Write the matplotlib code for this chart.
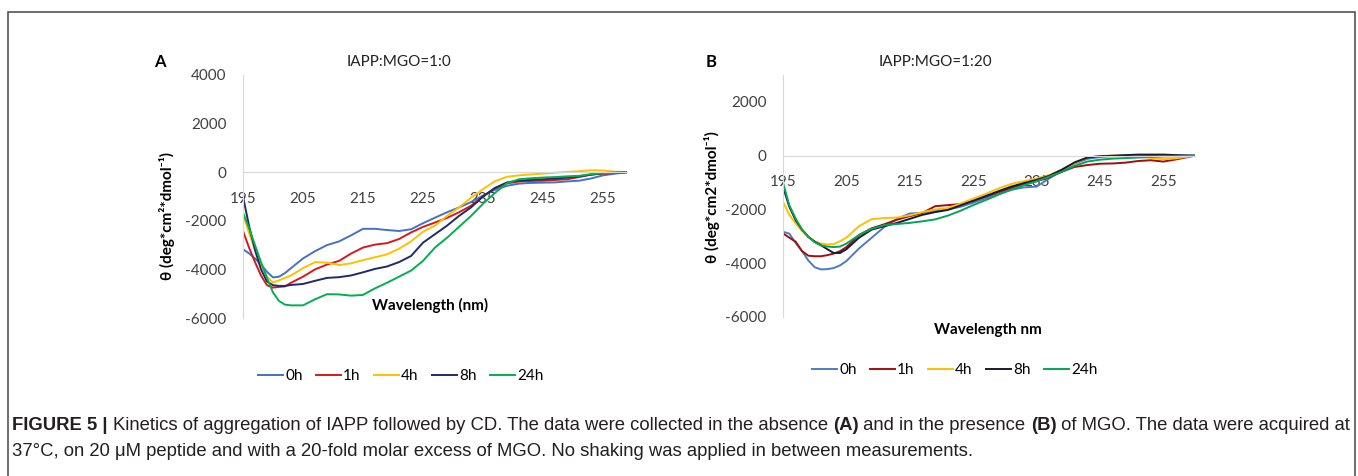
import matplotlib
matplotlib.use('Agg')
import matplotlib.pyplot as plt
from matplotlib.patches import Rectangle

# ---- data ----
hours = ['0h', '1h', '4h', '8h', '24h']

# panel A, IAPP:MGO = 1:0
wl_a = [195, 196, 197, 198, 199, 200, 201, 202, 203, 205, 207, 209, 211, 213, 215, 217, 219,
        221, 223, 225, 227, 229, 231, 233, 235, 237, 239, 241, 243, 245, 247, 249, 251, 253,
        255, 257, 259]
a_0h = [-3170, -3340, -3550, -3800, -4100, -4330, -4300, -4150, -3950, -3550, -3250, -3000,
        -2850, -2600, -2330, -2330, -2380, -2420, -2350, -2100, -1870, -1650, -1450, -1230,
        -960, -720, -560, -470, -440, -430, -420, -380, -350, -260, -130, -60, 0]
a_1h = [-2420, -3100, -3700, -4250, -4650, -4750, -4720, -4700, -4550, -4300, -4000, -3800,
        -3650, -3350, -3100, -2980, -2920, -2750, -2480, -2250, -2070, -1880, -1650, -1380,
        -1000, -650, -460, -380, -360, -350, -320, -290, -200, -100, -60, -30, 0]
a_4h = [-1730, -2500, -3200, -3800, -4300, -4540, -4450, -4350, -4250, -3950, -3700, -3720,
        -3820, -3750, -3620, -3500, -3380, -3150, -2850, -2450, -2200, -1800, -1450, -1050,
        -700, -370, -190, -130, -90, -60, -20, 10, 40, 80, 70, 20, 0]
a_8h = [-1000, -2200, -3200, -4000, -4500, -4650, -4680, -4680, -4640, -4600, -4470, -4350,
        -4320, -4250, -4120, -3980, -3880, -3700, -3450, -2900, -2550, -2200, -1800, -1450,
        -1000, -650, -420, -350, -310, -290, -260, -220, -170, -100, -40, -20, 0]
a_24h = [-1660, -2300, -3000, -3700, -4350, -4950, -5300, -5450, -5480, -5480, -5230, -5020,
         -5030, -5080, -5050, -4780, -4550, -4300, -4050, -3650, -3100, -2700, -2250, -1800,
         -1300, -850, -450, -290, -250, -220, -200, -170, -150, -80, -40, -20, 0]

# panel B, IAPP:MGO = 1:20
wl_b = [195, 196, 197, 198, 199, 200, 201, 202, 203, 204, 205, 207, 209, 211, 213, 215, 217,
        219, 221, 223, 225, 227, 229, 231, 233, 235, 237, 239, 241, 243, 245, 247, 249, 251,
        253, 255, 257, 260]
b_0h = [-2830, -2900, -3250, -3550, -3900, -4150, -4230, -4220, -4180, -4080, -3920, -3450,
        -3050, -2650, -2350, -2150, -2130, -2050, -2000, -1900, -1750, -1580, -1400, -1270,
        -1180, -1150, -850, -550, -300, -120, -50, -20, 0, 10, 10, 0, 0, 0]
b_1h = [-2890, -3050, -3200, -3550, -3720, -3740, -3740, -3700, -3640, -3550, -3400, -2950,
        -2700, -2550, -2380, -2250, -2130, -1880, -1840, -1800, -1680, -1520, -1350, -1200,
        -1050, -950, -800, -600, -420, -350, -300, -290, -260, -200, -170, -220, -140, 0]
b_4h = [-1720, -2200, -2520, -2800, -3020, -3180, -3270, -3300, -3290, -3180, -3050, -2620,
        -2360, -2320, -2300, -2220, -2100, -2000, -1950, -1780, -1600, -1420, -1220, -1050,
        -950, -850, -720, -520, -280, -60, -20, 0, 0, -30, -80, -130, -100, 0]
b_8h = [-1160, -1900, -2400, -2750, -3020, -3200, -3330, -3480, -3620, -3620, -3480, -3050,
        -2750, -2620, -2500, -2350, -2200, -2100, -2020, -1850, -1680, -1500, -1320, -1150,
        -1020, -900, -750, -520, -250, -70, -20, 0, 20, 40, 40, 40, 20, 0]
b_24h = [-1000, -1850, -2340, -2750, -3020, -3220, -3340, -3380, -3400, -3380, -3270, -2950,
         -2720, -2580, -2540, -2500, -2440, -2370, -2230, -2050, -1840, -1650, -1450, -1270,
         -1100, -950, -780, -600, -380, -220, -150, -110, -90, -70, -50, -30, -20, 0]

colors_a = ['#4472C4', '#D7191C', '#FFC000', '#1F2A6B', '#00B050']
colors_b = ['#4A7CC6', '#A50D0D', '#FFC000', '#1A1A33', '#00A65A']

W, H = 1358, 476
plt.rcParams['axes.unicode_minus'] = False
chart_font = ['Lato', 'DejaVu Sans']
cap_font = ['Liberation Sans', 'DejaVu Sans']


def px(x, y):
    return x / W, 1 - y / H


def style_axes(ax, xmax, ymin, ymax, ytop_tick):
    ax.set_xlim(195, xmax)
    ax.set_ylim(ymin, ymax)
    ax.spines['top'].set_visible(False)
    ax.spines['right'].set_visible(False)
    ax.spines['bottom'].set_position(('data', 0))
    ax.spines['bottom'].set_color('#d9d9d9')
    ax.spines['left'].set_color('#d9d9d9')
    ax.set_xticks(range(195, 260, 10))
    ax.set_yticks(range(ymin, ytop_tick + 1, 2000))
    ax.tick_params(length=0, labelsize=11, colors='#404040')
    ax.tick_params(axis='y', pad=12)
    ax.tick_params(axis='x', pad=14)
    for lab in ax.get_xticklabels() + ax.get_yticklabels():
        lab.set_family(chart_font)
    ax.set_facecolor('none')


fig = plt.figure(figsize=(W / 100, H / 100), dpi=100)

# panel A
ax1 = fig.add_axes([243 / W, 1 - 318 / H, 384 / W, 243 / H])
for ys, c, h in zip([a_0h, a_1h, a_4h, a_8h, a_24h], colors_a, hours):
    ax1.plot(wl_a, ys, color=c, lw=1.4, label=h)
style_axes(ax1, 259, -6000, 4000, 4000)
ax1.legend(loc='center', bbox_to_anchor=(px(401, 376)), bbox_transform=fig.transFigure,
           ncol=5, frameon=False, handlelength=1.6, handletextpad=0.15, columnspacing=0.9,
           prop={'family': chart_font, 'size': 11})

# panel B
ax2 = fig.add_axes([783 / W, 1 - 317 / H, 412 / W, 242 / H])
for ys, c, h in zip([b_0h, b_1h, b_4h, b_8h, b_24h], colors_b, hours):
    ax2.plot(wl_b, ys, color=c, lw=1.4, label=h)
style_axes(ax2, 260, -6000, 3000, 2000)
ax2.legend(loc='center', bbox_to_anchor=(px(955, 370)), bbox_transform=fig.transFigure,
           ncol=5, frameon=False, handlelength=1.6, handletextpad=0.15, columnspacing=0.9,
           prop={'family': chart_font, 'size': 11})

# titles and axis labels
fig.text(*px(160, 62), 'A', fontsize=12, fontweight='bold', ha='center', va='center', family=chart_font)
fig.text(*px(399, 62), 'IAPP:MGO=1:0', fontsize=11, ha='center', va='center', color='#222222', family=chart_font)
fig.text(*px(711, 62), 'B', fontsize=12, fontweight='bold', ha='center', va='center', family=chart_font)
fig.text(*px(935, 62), 'IAPP:MGO=1:20', fontsize=11, ha='center', va='center', color='#222222', family=chart_font)

fig.text(*px(167, 216), 'θ (deg*cm²*dmol⁻¹)', rotation=90, fontsize=11, fontweight='bold',
         ha='center', va='center', family=chart_font)
fig.text(*px(712, 197), 'θ (deg*cm2*dmol⁻¹)', rotation=90, fontsize=11, fontweight='bold',
         ha='center', va='center', family=chart_font)
fig.text(*px(430, 305), 'Wavelength (nm)', fontsize=11, fontweight='bold', ha='center', va='center', family=chart_font)
fig.text(*px(988, 330), 'Wavelength nm', fontsize=11, fontweight='bold', ha='center', va='center', family=chart_font)

# frame around the figure
fig.patches.append(Rectangle(px(8, 490), (1355 - 8) / W, (490 - 12) / H, transform=fig.transFigure,
                             fill=False, edgecolor='#555555', lw=1.2, clip_on=False))

# caption, with bold runs
renderer = fig.canvas.get_renderer()


def caption_line(parts, x0, y0):
    x = x0
    for s, bold in parts:
        t = fig.text(x / W, 1 - y0 / H, s, fontsize=13.3, fontweight='bold' if bold else 'normal',
                     family=cap_font, color='#231f20', va='center', ha='left')
        bb = t.get_window_extent(renderer)
        x += bb.width


caption_line([('FIGURE 5 | ', True),
              ('Kinetics of aggregation of IAPP followed by CD. The data were collected in the absence ', False),
              ('(A)', True), (' and in the presence ', False), ('(B)', True),
              (' of MGO. The data were acquired at', False)], 12, 425)
caption_line([('37°C, on 20 μM peptide and with a 20-fold molar excess of MGO. '
               'No shaking was applied in between measurements.', False)], 12, 452)

fig.savefig('out.png', dpi=100)
